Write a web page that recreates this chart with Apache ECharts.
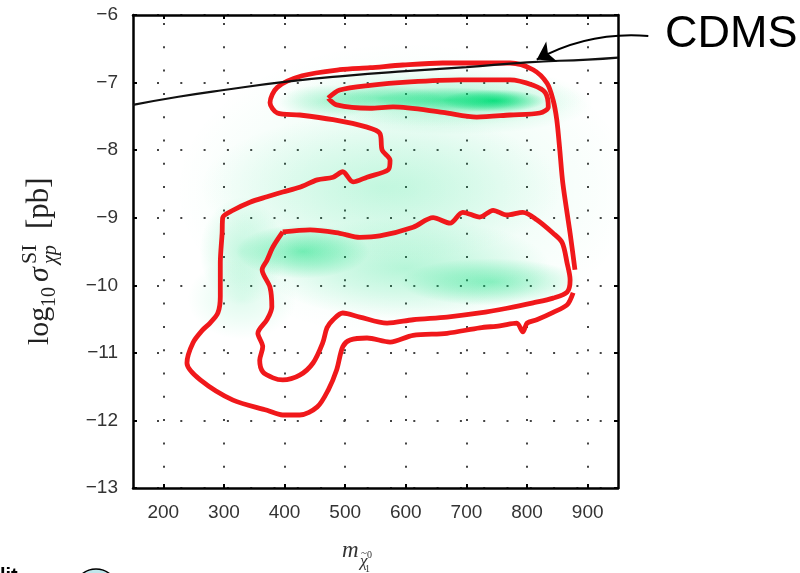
<!DOCTYPE html>
<html><head><meta charset="utf-8">
<script src="https://cdn.jsdelivr.net/npm/echarts@6/dist/echarts.min.js"></script>
<style>html,body{margin:0;padding:0;background:#fff}#c{width:800px;height:573px}</style>
</head><body><div id="c"></div>
<script>
// ---- data ----
const xTicks = [200, 300, 400, 500, 600, 700, 800, 900];
const yTicks = [-13, -12, -11, -10, -9, -8, -7, -6];

// CDMS exclusion line
const cdmsX = [150, 225, 300, 400, 500, 600, 700, 800, 900, 950];
const cdmsY = [-7.33, -7.21, -7.11, -6.99, -6.90, -6.83, -6.77, -6.70, -6.66, -6.63];

// outer (95%) contour, open at the right-hand side
const outerX = [876, 866, 843, 816, 800, 793, 783, 755, 722, 668, 612, 574, 536, 508, 496, 486, 472, 454, 425, 397, 371, 315, 261, 239, 249, 265, 277, 290, 294, 294, 297, 298, 315, 343, 371, 397, 425, 454, 480, 496, 513, 536, 571, 574, 561, 557, 536, 480, 425, 388, 376, 388, 429, 491, 541, 595, 661, 772, 810, 833, 843, 849, 854, 859, 871, 879];
const outerY = [-10.11, -10.29, -10.40, -10.51, -10.56, -10.69, -10.56, -10.60, -10.63, -10.71, -10.74, -10.84, -10.78, -10.81, -10.91, -11.25, -11.55, -11.80, -11.92, -11.92, -11.85, -11.70, -11.40, -11.15, -10.85, -10.66, -10.56, -10.41, -10.17, -9.67, -9.23, -9.00, -8.89, -8.77, -8.69, -8.62, -8.55, -8.44, -8.40, -8.32, -8.47, -8.40, -8.29, -8.15, -8.00, -7.75, -7.66, -7.55, -7.48, -7.45, -7.30, -7.07, -6.90, -6.81, -6.78, -6.74, -6.71, -6.71, -6.81, -7.01, -7.26, -7.55, -8.00, -8.49, -9.23, -9.77];

// inner (68%) contours
const innerUpperX = [472, 491, 541, 607, 689, 772, 810, 830, 835, 821, 772, 717, 661, 579, 541, 486, 472];
const innerUpperY = [-7.23, -7.11, -7.04, -6.99, -6.96, -6.96, -7.04, -7.15, -7.36, -7.45, -7.48, -7.51, -7.44, -7.36, -7.38, -7.33, -7.23];
const innerLowerX = [397, 442, 491, 524, 557, 612, 645, 673, 694, 722, 744, 767, 793, 816, 843, 858, 866, 871, 866, 843, 810, 767, 722, 668, 612, 569, 524, 496, 480, 470, 463, 447, 425, 397, 381, 364, 359, 364, 356, 371, 379, 376, 363, 371, 381, 397];
const innerLowerY = [-9.21, -9.18, -9.23, -9.29, -9.27, -9.14, -9.00, -9.08, -8.92, -8.99, -8.89, -8.96, -8.92, -9.03, -9.23, -9.37, -9.67, -9.92, -10.10, -10.19, -10.26, -10.34, -10.41, -10.47, -10.51, -10.56, -10.47, -10.41, -10.51, -10.63, -10.85, -11.15, -11.33, -11.40, -11.37, -11.28, -11.11, -10.91, -10.71, -10.51, -10.32, -10.03, -9.77, -9.63, -9.43, -9.21];

// posterior density blobs (centre, spread, strength)
const blobX  = [745, 670, 560, 470, 680, 430, 330, 740, 600, 560, 600, 330, 650];
const blobY  = [-7.27, -7.26, -7.23, -7.28, -7.32, -9.50, -9.50, -9.95, -9.75, -8.55, -8.60, -10.2, -7.2];
const blobRX = [85, 120, 100, 80, 230, 110, 70, 150, 240, 300, 380, 90, 250];
const blobRY = [0.17, 0.19, 0.20, 0.25, 0.45, 0.40, 0.80, 0.35, 0.75, 1.10, 2.20, 0.60, 0.45];
const blobA  = [0.90, 0.60, 0.40, 0.25, 0.20, 0.50, 0.22, 0.40, 0.25, 0.16, 0.10, 0.12, 0.15];

// annotation arrow (data coordinates)
const arrowFrom = [1000, -6.31];
const arrowTo = [816, -6.66];

// ---- chart ----
const pair = (xs, ys) => xs.map((x, i) => [x, ys[i]]);
const chart = echarts.init(document.getElementById('c'));
const labelFont = '"Liberation Sans", Arial, sans-serif';
const serif = '"Liberation Serif", "DejaVu Serif", serif';
const redStyle = { color: '#f0181b', width: 4.8 };

const option = {
  animation: false,
  backgroundColor: '#fff',
  grid: { left: 133, right: 182, top: 15, bottom: 85 },
  xAxis: [{
    type: 'value', min: 150, max: 950, position: 'bottom',
    axisLine: { onZero: false, lineStyle: { color: '#000', width: 2.5 } },
    axisTick: { inside: true, length: 4, customValues: xTicks, lineStyle: { color: '#000', width: 2 } },
    axisLabel: { customValues: xTicks, margin: 15, fontSize: 19, fontFamily: labelFont, color: '#333' },
    splitLine: { show: true, lineStyle: { color: '#444', width: 2, type: [2, 21.3], dashOffset: 15.3 } }
  }, {
    type: 'value', min: 150, max: 950, position: 'top',
    axisLine: { onZero: false, lineStyle: { color: '#000', width: 2.5 } },
    axisTick: { inside: true, length: 4, customValues: xTicks, lineStyle: { color: '#000', width: 2 } },
    axisLabel: { show: false }, splitLine: { show: false }
  }],
  yAxis: [{
    type: 'value', min: -13, max: -6, interval: 1, position: 'left',
    axisLine: { onZero: false, lineStyle: { color: '#000', width: 2.5 } },
    axisTick: { inside: true, length: 4, lineStyle: { color: '#000', width: 2 } },
    axisLabel: { margin: 15, fontSize: 19, fontFamily: labelFont, color: '#333',
      formatter: v => String(v).replace('-', '\u2212') },
    splitLine: { show: true, lineStyle: { color: '#444', width: 2, type: [2, 21.3], dashOffset: 22.6 } }
  }, {
    type: 'value', min: -13, max: -6, interval: 1, position: 'right',
    axisLine: { onZero: false, lineStyle: { color: '#000', width: 2.5 } },
    axisTick: { inside: true, length: 4, lineStyle: { color: '#000', width: 2 } },
    axisLabel: { show: false }, splitLine: { show: false }
  }],
  series: [
    {
      type: 'custom', silent: true, clip: true, z: 1,
      data: blobX.map((x, i) => [x, blobY[i], blobRX[i], blobRY[i], blobA[i]]),
      encode: { x: 0, y: 1 },
      renderItem: (params, api) => {
        const c = api.coord([api.value(0), api.value(1)]);
        const s = api.size([api.value(2), api.value(3)]);
        const a = api.value(4);
        return {
          type: 'circle', x: c[0], y: c[1], scaleY: s[1] / s[0],
          shape: { cx: 0, cy: 0, r: s[0] },
          style: { fill: new echarts.graphic.RadialGradient(0.5, 0.5, 0.5, [
            { offset: 0, color: 'rgba(0,222,120,' + a + ')' },
            { offset: 0.5, color: 'rgba(0,222,120,' + (a * 0.55) + ')' },
            { offset: 1, color: 'rgba(0,222,120,0)' }
          ]) }
        };
      }
    },
    { type: 'line', data: pair(outerX, outerY), showSymbol: false, smooth: 0.3, z: 3, lineStyle: redStyle, silent: true },
    { type: 'line', data: pair(innerUpperX, innerUpperY), showSymbol: false, smooth: 0.3, z: 3, lineStyle: redStyle, silent: true },
    { type: 'line', data: pair(innerLowerX, innerLowerY), showSymbol: false, smooth: 0.3, z: 3, lineStyle: redStyle, silent: true },
    { type: 'line', data: pair(cdmsX, cdmsY), showSymbol: false, smooth: true, z: 4, lineStyle: { color: '#111', width: 2.2 }, silent: true },
    {
      type: 'lines', coordinateSystem: 'cartesian2d', clip: false, z: 5, silent: true,
      symbol: ['none', 'arrow'], symbolSize: 17,
      lineStyle: { color: '#000', width: 2, curveness: -0.15, opacity: 1 },
      data: [{ coords: [arrowFrom, arrowTo] }]
    }
  ],
  graphic: [
    { type: 'text', x: 665, y: 35, style: { text: 'CDMS', font: '45px ' + labelFont, fill: '#000', verticalAlign: 'middle' } },
    {
      type: 'group', x: 50, y: 345, rotation: Math.PI / 2,
      children: [
        { type: 'text', x: 0, y: -10, style: { text: 'log', font: '30px ' + serif, fill: '#222', verticalAlign: 'middle' } },
        { type: 'text', x: 38, y: 0, style: { text: '10', font: '20px ' + serif, fill: '#222', verticalAlign: 'middle' } },
        { type: 'text', x: 63, y: -10, style: { text: 'σ', font: 'italic 30px ' + serif, fill: '#222', verticalAlign: 'middle' } },
        { type: 'text', x: 81, y: -20, style: { text: 'SI', font: '22px ' + serif, fill: '#222', verticalAlign: 'middle' } },
        { type: 'text', x: 81, y: 1, style: { text: 'χp', font: 'italic 20px ' + serif, fill: '#222', verticalAlign: 'middle' } },
        { type: 'text', x: 116, y: -10, style: { text: '[pb]', font: '31px ' + serif, fill: '#222', verticalAlign: 'middle' } }
      ]
    },
    { type: 'text', x: 342, y: 551, style: { text: 'm', font: 'italic 23px ' + serif, fill: '#333', verticalAlign: 'middle' } },
    { type: 'text', x: 360, y: 562, style: { text: 'χ', font: 'italic 17px ' + serif, fill: '#333', verticalAlign: 'middle' } },
    { type: 'text', x: 361, y: 553, style: { text: '~', font: '11px ' + serif, fill: '#333', verticalAlign: 'middle' } },
    { type: 'text', x: 367, y: 555, style: { text: '0', font: '10px ' + serif, fill: '#333', verticalAlign: 'middle' } },
    { type: 'text', x: 365, y: 569, style: { text: '1', font: '10px ' + serif, fill: '#333', verticalAlign: 'middle' } },
    { type: 'text', x: 0, y: 566, style: { text: 'lit', font: 'bold 20px ' + labelFont, fill: '#000', verticalAlign: 'top' } },
    { type: 'circle', shape: { cx: 96, cy: 591, r: 22 }, style: { fill: '#bfe7ec', stroke: '#000', lineWidth: 1.5 } }
  ]
};
chart.setOption(option);
</script>
</body></html>
